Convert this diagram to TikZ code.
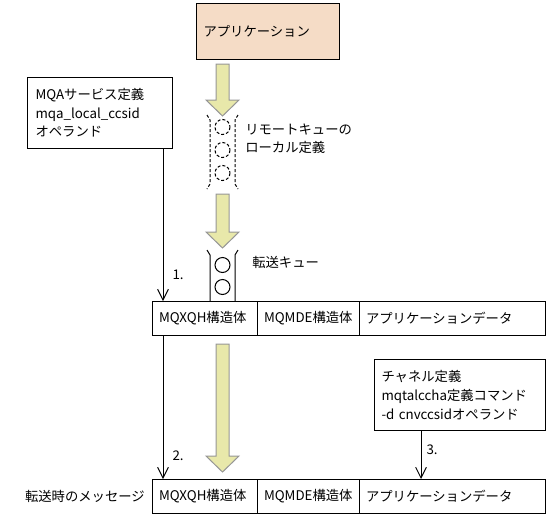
\documentclass[tikz,border=0pt]{standalone}
\usepackage{fontspec}
\setmainfont{Noto Sans CJK JP}
\usetikzlibrary{arrows.meta,positioning}

\definecolor{appfill}{RGB}{245,220,198}
\definecolor{blockfill}{RGB}{232,232,170}
\definecolor{blockline}{RGB}{150,150,150}

\tikzset{
  box/.style={draw, line width=0.75pt, anchor=north west, align=left, inner ysep=0pt, font=\fontsize{10pt}{14pt}\selectfont},
  cell/.style={draw, line width=0.75pt, anchor=north west, outer sep=0pt, minimum height=25.5pt, inner xsep=5.25pt, align=left, font=\fontsize{10pt}{12pt}\selectfont},
  lbl/.style={inner sep=0.75pt, align=left, font=\fontsize{10pt}{13.5pt}\selectfont},
  link/.style={draw, line width=0.75pt, -{Straight Barb[length=8pt,width=8pt]}},
  queue/.style={line width=0.75pt},
  blockarrow/.style={draw=blockline, fill=blockfill, line width=0.75pt}
}

\begin{document}
\begin{tikzpicture}[x=0.75pt,y=0.75pt,yscale=-1,xscale=1]
\useasboundingbox (0,0) rectangle (548,518);

%Shape: Rectangle (application)
\draw (196,3) node (app) [box, fill=appfill, text width=96.75pt, inner xsep=5.25pt, minimum height=42pt] {アプリケーション};
%Shape: Rectangle (MQA service definition)
\draw (27,77) node (mqa) [box, text width=96.75pt, inner xsep=6pt, minimum height=53.25pt] {MQAサービス定義\\mqa\_local\_ccsid\\オペランド};
%Shape: Rectangle (channel definition)
\draw (374,359) node (ch) [box, text width=117.75pt, inner xsep=5.25pt, minimum height=53.25pt] {チャネル定義\\mqtalccha定義コマンド\\-d cnvccsidオペランド};

%Shape: Table row 1
\draw (152,301) node (qh1) [cell, text width=68.25pt] {MQXQH構造体};
\node (md1) [cell, text width=66pt, right=0pt of qh1] {MQMDE構造体};
\node (ad1) [cell, text width=129pt, right=0pt of md1] {アプリケーションデータ};
%Shape: Table row 2
\draw (152,479) node (qh2) [cell, text width=68.25pt] {MQXQH構造体};
\node (md2) [cell, text width=66pt, right=0pt of qh2] {MQMDE構造体};
\node (ad2) [cell, text width=129pt, right=0pt of md2] {アプリケーションデータ};

%Down Arrows
\foreach \t/\b in {64/116,194/248,344/472}
  \draw[blockarrow] (216,\t) -- (229,\t) -- (229,\b-16) -- (239,\b-16) -- (222.5,\b) -- (206,\b-16) -- (216,\b-16) -- cycle;

%Shape: remote queue (dashed)
\draw[queue, dash pattern=on 2.25pt off 1.5pt] (207,115) -- (210,120) -- (210,184) -- (207,189);
\draw[queue, dash pattern=on 2.25pt off 1.5pt] (238,115) -- (235,120) -- (235,184) -- (238,189);
\foreach \y in {127,150,173}
  \draw[queue, dash pattern=on 2.25pt off 1.5pt] (222.5,\y) circle [radius=7.5];
%Shape: transmission queue
\draw[queue] (207,250) -- (210,255) -- (210,301);
\draw[queue] (238,250) -- (235,255) -- (235,301);
\foreach \y in {265,287}
  \draw[queue] (222.5,\y) circle [radius=7.5];

% Text Node
\draw (244,139) node (rq) [lbl, anchor=west] {リモートキューの\\ローカル定義};
% Text Node
\draw (251,262) node (tq) [lbl, anchor=west] {転送キュー};
% Text Node
\node (msg) [lbl, left=4.5pt of qh2] {転送時のメッセージ};

%Straight Lines
\coordinate (c1) at (163,0);
\coordinate (c3) at (421,0);
\draw[link] (mqa.south -| c1) -- (qh1.north -| c1) node (n1) [lbl, pos=0.83, anchor=west, xshift=6pt] {1.};
\draw[link] (qh1.south -| c1) -- (qh2.north -| c1) node (n2) [lbl, pos=0.84, anchor=west, xshift=6pt] {2.};
\draw[link] (ch.south -| c3) -- (ad2.north -| c3) node (n3) [lbl, pos=0.4, anchor=west, xshift=3pt] {3.};

\end{tikzpicture}
\end{document}
